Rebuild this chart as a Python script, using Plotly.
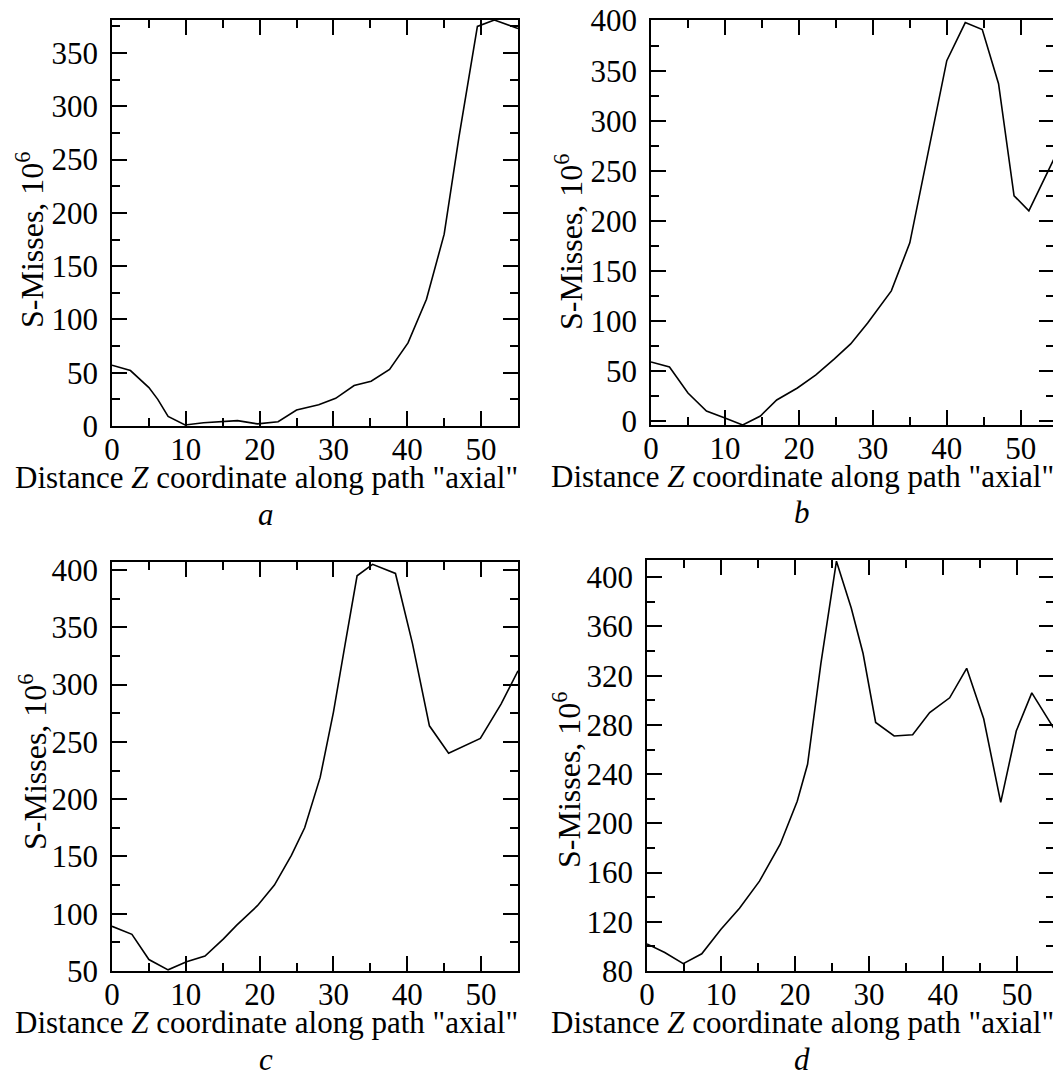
import plotly.graph_objects as go

# ---------------- data ----------------
z_a = [0, 2.5, 5, 6.2, 7.6, 9.9, 12.4, 14.7, 17, 19.7, 22.5, 25, 28, 30.3, 32.8,
       35.1, 37.6, 40.1, 42.6, 45, 47, 49.5, 51.8, 55]
s_a = [57, 52, 36, 25, 9, 1, 3, 4, 5, 2, 4, 15, 20, 26, 38,
       42, 53, 78, 119, 180, 271, 375, 381, 373]

z_b = [0, 2.5, 5, 7.5, 10, 12.4, 14.8, 17, 19.8, 22.3, 24.8, 27, 29.3, 32.5, 35,
       37, 40, 42.5, 44.8, 47, 49.1, 51.1, 54.5]
s_b = [59, 54, 28, 10, 3, -4, 5, 21, 33, 46, 62, 77, 98, 130, 178,
       252, 360, 398, 391, 337, 225, 210, 262]

z_c = [0, 2.7, 5, 7.6, 10.1, 12.6, 15.1, 16.9, 19.7, 22, 24.3, 26.1, 28.2, 30, 31.6,
       33.2, 35.3, 38.4, 40.7, 43, 45.6, 47.6, 49.9, 52.7, 55]
s_c = [89, 82, 60, 51, 58, 63, 78, 90, 107, 125, 151, 175, 219, 276, 336,
       395, 405, 397, 336, 264, 240, 246, 253, 283, 312]

z_d = [0, 2.4, 4.9, 7.4, 10, 12.5, 15.2, 18, 20.3, 21.7, 23.5, 25.6, 27.6, 29.2, 30.9,
       33.4, 35.9, 38.2, 40.9, 43.2, 45.5, 47.8, 49.9, 52, 55]
s_d = [102, 95, 86, 94, 114, 131, 153, 183, 218, 248, 330, 413, 375, 338, 282,
       271, 272, 290, 302, 326, 285, 217, 275, 306, 277]

panel_labels = ["a", "b", "c", "d"]
x_title = 'Distance <i>Z</i> coordinate along path "axial"'
y_title = "S-Misses, 10<sup>6</sup>"

y_ranges = [[0, 381], [-4, 400.6], [50, 407], [80, 414]]
y_dticks = [50, 50, 50, 40]
x_ranges = [[0, 55], [0, 54.5], [0, 55], [0, 55]]

# ---------------- layout geometry ----------------
OFF = 8                      # page body margin
W, H = 1049, 1073
# plot rectangles in page pixels: (left, right, top, bottom)
rects = [(112, 518, 20, 426), (651, 1054, 20, 425),
         (112, 518, 562, 971), (647, 1054, 560, 971)]
ytitle_x = [30, 569, 33, 567]
ytitle_y = [240, 242, 762, 780]


def px(x):
    return min(max((x - OFF) / W, 0), 1)


def py(y):
    return min(max(1 - (y - OFF) / H, 0), 1)


FONT = "Liberation Serif, Times New Roman, serif"
fig = go.Figure()

series = [(z_a, s_a), (z_b, s_b), (z_c, s_c), (z_d, s_d)]
annotations = []
layout = {}
for i, ((zx, sy), (l, r, t, b)) in enumerate(zip(series, rects)):
    n = "" if i == 0 else str(i + 1)
    fig.add_trace(go.Scatter(x=zx, y=sy, mode="lines",
                             line=dict(color="black", width=1.6),
                             xaxis="x" + n, yaxis="y" + n, showlegend=False,
                             cliponaxis=True))
    axcommon = dict(showline=True, linecolor="black", linewidth=1.6,
                    mirror="ticks", ticks="inside", ticklen=15, tickwidth=1.6,
                    tickcolor="black", showgrid=False, zeroline=False,
                    automargin=False, ticklabeloverflow="allow",
                    tickfont=dict(family=FONT, size=31, color="black"))
    layout["xaxis" + n] = dict(
        axcommon, domain=[px(l), px(r)], range=x_ranges[i], tick0=0, dtick=10,
        anchor="y" + n, ticklabelstandoff=-5,
        minor=dict(ticks="inside", ticklen=8, tickwidth=1.6, tickcolor="black", dtick=5, tick0=0))
    layout["yaxis" + n] = dict(
        axcommon, domain=[py(b), py(t)], range=y_ranges[i], tick0=0,
        dtick=y_dticks[i], anchor="x" + n, ticklabelstandoff=6,
        minor=dict(ticks="inside", ticklen=8, tickwidth=1.6, tickcolor="black",
                   dtick=y_dticks[i] / 2, tick0=0))
    # x title
    annotations.append(dict(text=x_title, x=px(r + 2), y=py(b + 51),
                            xref="paper", yref="paper", xanchor="right", yanchor="middle",
                            showarrow=False,
                            font=dict(family=FONT, size=31, color="black")))
    # panel label
    annotations.append(dict(text="<i>" + panel_labels[i] + "</i>",
                            x=px(r - 252), y=py(b + 88),
                            xref="paper", yref="paper", xanchor="center", yanchor="middle",
                            showarrow=False,
                            font=dict(family=FONT, size=31, color="black")))
    # y title
    annotations.append(dict(text=y_title, x=px(ytitle_x[i]), y=py(ytitle_y[i]),
                            xref="paper", yref="paper", xanchor="center", yanchor="middle",
                            textangle=-90, showarrow=False,
                            font=dict(family=FONT, size=32, color="black")))

fig.update_layout(**layout)
fig.update_layout(width=W, height=H, autosize=False, margin=dict(l=0, r=0, t=0, b=0, pad=0),
                  paper_bgcolor="white", plot_bgcolor="white",
                  annotations=annotations, showlegend=False)
fig.write_html("out.html")
